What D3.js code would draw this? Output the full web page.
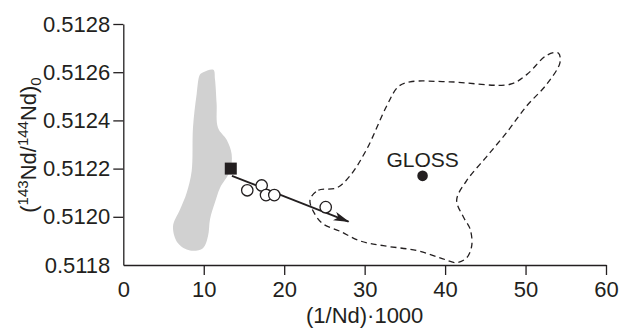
<!DOCTYPE html>
<html>
<head>
<meta charset="utf-8">
<script src="https://cdn.jsdelivr.net/npm/d3@7"></script>
<style>
  body { margin: 0; background: #fff; }
  svg { display: block; font-family: "Liberation Sans", Arial, sans-serif; }
</style>
</head>
<body>
<svg id="chart" width="619" height="331"></svg>
<script>
// axis ticks
const xTicks = [0, 10, 20, 30, 40, 50, 60];
const yTicks = [0.5118, 0.5120, 0.5122, 0.5124, 0.5126, 0.5128];

// grey field (x, y)
const greyX = [9.94, 11.19, 11.4, 11.6, 11.77, 12.85, 13.47, 13.26, 12.02, 11.4, 10.78, 10.53, 9.9, 8.29, 6.8, 6.18, 7.05, 7.88, 8.5, 8.66, 9.12, 9.53];
const greyY = [0.51260, 0.51261, 0.51257, 0.51247, 0.51237, 0.51232, 0.51226, 0.51219, 0.51212, 0.51206, 0.51199, 0.51192, 0.51187, 0.51186, 0.51189, 0.51196, 0.51203, 0.51210, 0.51219, 0.51237, 0.51251, 0.51259];

// GLOSS dashed field
const glossX = [23.21, 24.24, 26.53, 28.18, 30.25, 32.74, 34.18, 35.64, 40.61, 48.07, 50.14, 52.63, 54.07, 54.28, 52.63, 50.14, 47.66, 45.17, 42.68, 41.44, 42.26, 43.1, 43.31, 42.68, 41.44, 39.37, 36.47, 32.32, 29.42, 26.94, 24.86, 23.83];
const glossY = [0.51207, 0.51211, 0.51212, 0.51217, 0.51228, 0.51246, 0.51254, 0.51256, 0.51256, 0.51255, 0.51259, 0.51267, 0.51268, 0.51264, 0.51255, 0.51246, 0.51235, 0.51225, 0.51215, 0.51207, 0.51200, 0.51195, 0.51188, 0.51183, 0.51181, 0.51183, 0.51186, 0.51188, 0.51190, 0.51194, 0.51197, 0.51201];

// samples (open circles)
const sampleX = [15.41, 17.2, 17.74, 18.77, 25.16];
const sampleY = [0.51211, 0.51213, 0.51209, 0.51209, 0.51204];

// end member (square), GLOSS point, mixing arrow
const squareX = [13.36];
const squareY = [0.51220];
const glossPtX = [37.2];
const glossPtY = [0.51217];
const arrowX = [13.5, 28.0];
const arrowY = [0.51217, 0.51198];

const ink = '#231f20';
const font = '"Liberation Sans", Arial, sans-serif';
const svg = d3.select('#chart');

const x = d3.scaleLinear().domain([0, 60]).range([123.3, 606]);
const y = d3.scaleLinear().domain([0.5118, 0.5128]).range([265, 24]);

const zip = (a, b) => a.map((v, i) => [v, b[i]]);
const line = d3.line().x(d => x(d[0])).y(d => y(d[1])).curve(d3.curveCatmullRomClosed.alpha(0.5));

// grey field
svg.append('path')
    .attr('d', line(zip(greyX, greyY)))
    .attr('fill', '#d1d1d1');

// GLOSS field
svg.append('path')
    .attr('d', line(zip(glossX, glossY)))
    .attr('fill', 'none')
    .attr('stroke', ink)
    .attr('stroke-width', 1.3)
    .attr('stroke-dasharray', '6,4');

// axes
const xAxis = d3.axisBottom(x).tickValues(xTicks).tickSize(10).tickSizeOuter(0).tickPadding(6).tickFormat(d3.format('d'));
const gx = svg.append('g').attr('transform', 'translate(0,265)').call(xAxis);
const yAxis = d3.axisLeft(y).tickValues(yTicks).tickSize(10).tickSizeOuter(0).tickPadding(3).tickFormat(d3.format('.4f'));
const gy = svg.append('g').attr('transform', 'translate(123.3,0)').call(yAxis);

[gx, gy].forEach(g => {
    g.select('.domain').attr('stroke', ink).attr('stroke-width', 1.3);
    g.selectAll('.tick line').attr('stroke', ink).attr('stroke-width', 1.3);
    g.selectAll('.tick text').attr('fill', ink).style('font-size', '22px').style('font-family', font);
});
gx.selectAll('.tick').filter(d => d === 0).select('line').remove();
gy.selectAll('.tick').filter(d => d === 0.5118).select('line').remove();

// axis titles
svg.append('text')
    .attr('x', x(30)).attr('y', 323)
    .attr('text-anchor', 'middle')
    .attr('fill', ink)
    .style('font-size', '22px')
    .text('(1/Nd)\u00b71000');

const yt = svg.append('text')
    .attr('transform', 'translate(36,145) rotate(-90)')
    .attr('text-anchor', 'middle')
    .attr('fill', ink)
    .style('font-size', '22px');
yt.append('tspan').text('(');
yt.append('tspan').attr('dy', -8).style('font-size', '15px').text('143');
yt.append('tspan').attr('dy', 8).text('Nd/');
yt.append('tspan').attr('dy', -8).style('font-size', '15px').text('144');
yt.append('tspan').attr('dy', 8).text('Nd)');
yt.append('tspan').attr('dy', 5).style('font-size', '15px').text('0');

// arrow
svg.append('defs').append('marker')
    .attr('id', 'head')
    .attr('viewBox', '0 -5 16 10')
    .attr('refX', 15).attr('refY', 0)
    .attr('markerWidth', 16).attr('markerHeight', 10)
    .attr('markerUnits', 'userSpaceOnUse')
    .attr('orient', 'auto')
    .append('path')
    .attr('d', 'M0,-4.5L16,0L0,4.5L4,0Z')
    .attr('fill', ink);

svg.append('path')
    .attr('d', d3.line().x(d => x(d[0])).y(d => y(d[1]))(zip(arrowX, arrowY)))
    .attr('stroke', ink)
    .attr('stroke-width', 1.8)
    .attr('fill', 'none')
    .attr('marker-end', 'url(#head)');

// square
svg.selectAll('rect.em')
    .data(zip(squareX, squareY))
    .enter().append('rect')
    .attr('class', 'em')
    .attr('x', d => x(d[0]) - 6).attr('y', d => y(d[1]) - 6)
    .attr('width', 12).attr('height', 12)
    .attr('fill', ink);

// samples
svg.selectAll('circle.s')
    .data(zip(sampleX, sampleY))
    .enter().append('circle')
    .attr('class', 's')
    .attr('cx', d => x(d[0])).attr('cy', d => y(d[1]))
    .attr('r', 5.7)
    .attr('fill', '#fff')
    .attr('stroke', ink)
    .attr('stroke-width', 1.3);

// GLOSS point
svg.selectAll('circle.g')
    .data(zip(glossPtX, glossPtY))
    .enter().append('circle')
    .attr('class', 'g')
    .attr('cx', d => x(d[0])).attr('cy', d => y(d[1]))
    .attr('r', 5.3)
    .attr('fill', ink);

svg.append('text')
    .attr('x', x(glossPtX[0])).attr('y', y(glossPtY[0]) - 8.5)
    .attr('text-anchor', 'middle')
    .attr('fill', ink)
    .style('font-size', '21px')
    .text('GLOSS');
</script>
</body>
</html>
